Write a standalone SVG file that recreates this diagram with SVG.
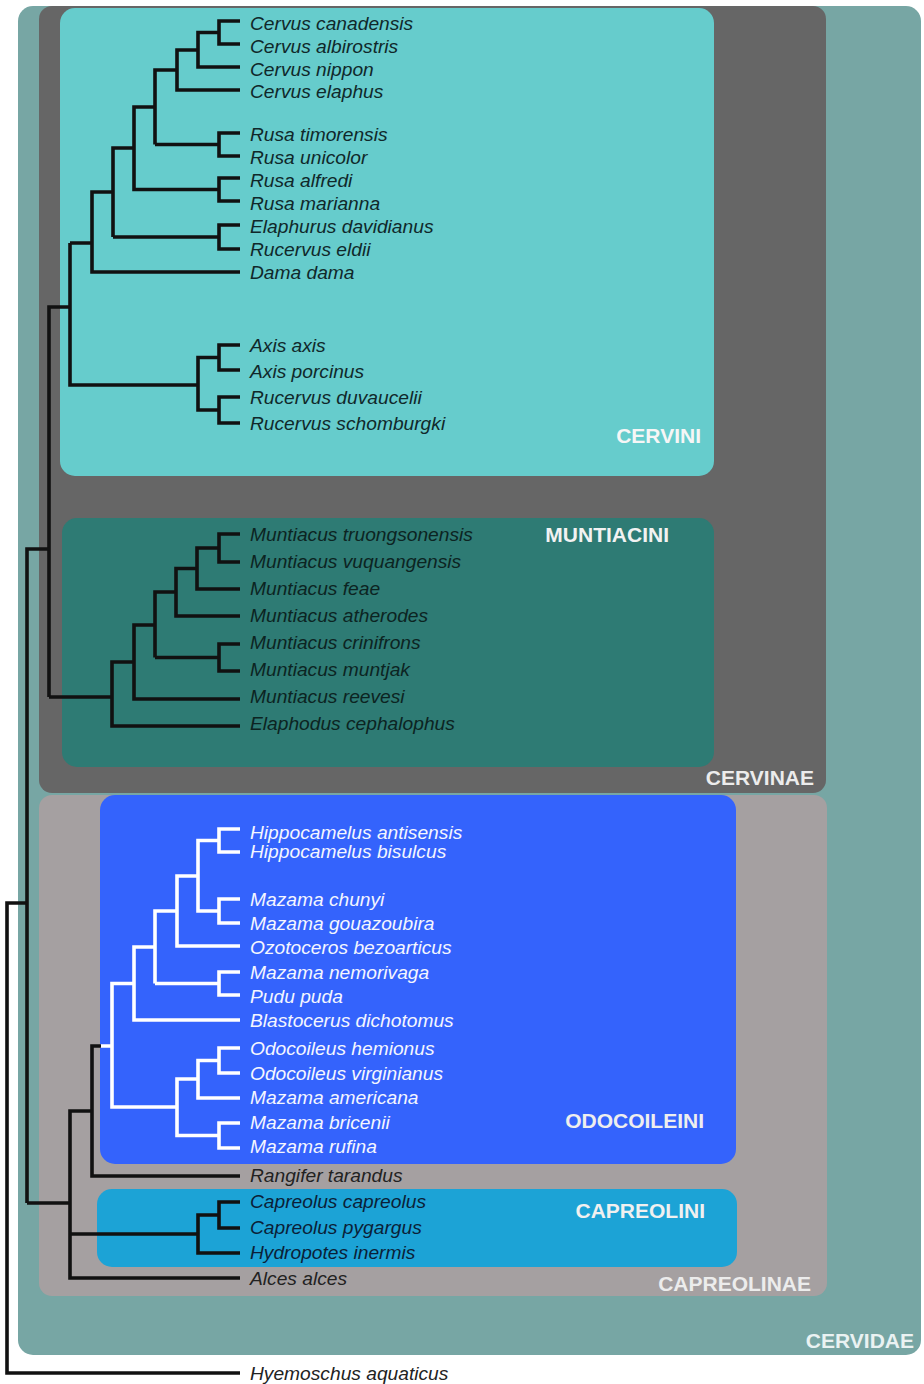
<svg xmlns="http://www.w3.org/2000/svg" width="924" height="1384" viewBox="0 0 924 1384">
<style>
.sp{font-family:"Liberation Sans",Arial,sans-serif;font-style:italic;font-size:19.2px}
.dk{fill:#10282a}
.mu{fill:#0c2422}
.wh{fill:#f4f6ff}
.cp{fill:#0b1f38}
.gr{fill:#222}
.lb{font-family:"Liberation Sans",Arial,sans-serif;font-weight:bold;font-size:21px;text-anchor:end}
.bl{fill:none;stroke:#111;stroke-width:3.6;stroke-linejoin:miter}
.wl{fill:none;stroke:#fff;stroke-width:3.6;stroke-linejoin:miter}
</style>
<rect width="924" height="1384" fill="#fff"/>
<g id="cervidae"><rect x="18" y="6" width="903" height="1349" rx="15" fill="#77a6a4"/><text class="lb" x="914" y="1348" fill="#eaf2f2">CERVIDAE</text></g>
<g id="cervinae"><rect x="39" y="6" width="787" height="787" rx="13" fill="#666666"/><text class="lb" x="814" y="785" fill="#ececec">CERVINAE</text></g>
<g id="capreolinae"><rect x="39" y="795" width="788" height="501" rx="13" fill="#a5a0a1"/><text class="lb" x="811" y="1291" fill="#ececec">CAPREOLINAE</text></g>
<g id="cervini"><rect x="60" y="8" width="654" height="468" rx="15" fill="#66cccc"/><text class="lb" x="701" y="443" fill="#f6f6f6">CERVINI</text></g>
<g id="muntiacini"><rect x="62" y="518" width="652" height="249" rx="15" fill="#2e7b74"/><text class="lb" x="669" y="542" fill="#f2f2f2">MUNTIACINI</text></g>
<g id="odocoileini"><rect x="100" y="795" width="636" height="369" rx="15" fill="#3463fc"/><text class="lb" x="704" y="1128" fill="#eeeeee">ODOCOILEINI</text></g>
<g id="capreolini"><rect x="97" y="1189" width="640" height="78" rx="15" fill="#1ca3d6"/><text class="lb" x="705" y="1218" fill="#f0f0f0">CAPREOLINI</text></g>

<g id="connectors">
<path class="bl" d="M240 21H219V44H240M219 32.5H198V67H240M198 50H177V90H240M240 133H219V156H240M219 144.5H155M177 70H155V144.5M155 107H134V189.5H219M240 178H219V201H240M240 225H219V249H240M219 237H113M134 148H113V237M113 192H92V272H240M92 243H70M240 345H219V370H240M240 397H219V423H240M219 357.5H198V410H219M198 385H70V243M70 307H49V697"/>
<path class="bl" d="M240 534H219V562H240M219 548H197V589H240M197 568.5H176V616H240M240 644H219V671H240M219 657.5H155M176 592H155V657.5M155 625H134V699H240M134 662H112V726H240M112 697H49M49 549H27V1203"/>
<path class="wl" d="M240 829H219V852H240M240 899H219V923H240M219 840.5H198V911H219M198 876H177V946H240M240 972H219V995H240M219 983.5H155M177 911H155V983.5M155 947H134V1020H240M134 983.5H112V1107H177M240 1048H219V1073H240M219 1060.5H198V1098H240M240 1123H219V1148H240M219 1135.5H177V1079H198M112 1046H100"/>
<path class="bl" d="M101 1046H92V1176H240M92 1111H70V1278H240M240 1202H219V1228H240M219 1215H198V1253H240M198 1234H70M70 1203H27M27 903H7V1373H240"/>
</g>

<g id="cervus-canadensis"><text class="sp dk" x="250" y="30">Cervus canadensis</text></g>
<g id="cervus-albirostris"><text class="sp dk" x="250" y="53">Cervus albirostris</text></g>
<g id="cervus-nippon"><text class="sp dk" x="250" y="76">Cervus nippon</text></g>
<g id="cervus-elaphus"><text class="sp dk" x="250" y="98">Cervus elaphus</text></g>
<g id="rusa-timorensis"><text class="sp dk" x="250" y="141">Rusa timorensis</text></g>
<g id="rusa-unicolor"><text class="sp dk" x="250" y="164">Rusa unicolor</text></g>
<g id="rusa-alfredi"><text class="sp dk" x="250" y="187">Rusa alfredi</text></g>
<g id="rusa-marianna"><text class="sp dk" x="250" y="210">Rusa marianna</text></g>
<g id="elaphurus-davidianus"><text class="sp dk" x="250" y="233">Elaphurus davidianus</text></g>
<g id="rucervus-eldii"><text class="sp dk" x="250" y="256">Rucervus eldii</text></g>
<g id="dama-dama"><text class="sp dk" x="250" y="279">Dama dama</text></g>
<g id="axis-axis"><text class="sp dk" x="250" y="352">Axis axis</text></g>
<g id="axis-porcinus"><text class="sp dk" x="250" y="378">Axis porcinus</text></g>
<g id="rucervus-duvaucelii"><text class="sp dk" x="250" y="404">Rucervus duvaucelii</text></g>
<g id="rucervus-schomburgki"><text class="sp dk" x="250" y="430">Rucervus schomburgki</text></g>

<g id="muntiacus-truongsonensis"><text class="sp mu" x="250" y="541">Muntiacus truongsonensis</text></g>
<g id="muntiacus-vuquangensis"><text class="sp mu" x="250" y="568">Muntiacus vuquangensis</text></g>
<g id="muntiacus-feae"><text class="sp mu" x="250" y="595">Muntiacus feae</text></g>
<g id="muntiacus-atherodes"><text class="sp mu" x="250" y="622">Muntiacus atherodes</text></g>
<g id="muntiacus-crinifrons"><text class="sp mu" x="250" y="649">Muntiacus crinifrons</text></g>
<g id="muntiacus-muntjak"><text class="sp mu" x="250" y="676">Muntiacus muntjak</text></g>
<g id="muntiacus-reevesi"><text class="sp mu" x="250" y="703">Muntiacus reevesi</text></g>
<g id="elaphodus-cephalophus"><text class="sp mu" x="250" y="730">Elaphodus cephalophus</text></g>

<g id="hippocamelus-antisensis"><text class="sp wh" x="250" y="839">Hippocamelus antisensis</text></g>
<g id="hippocamelus-bisulcus"><text class="sp wh" x="250" y="858">Hippocamelus bisulcus</text></g>
<g id="mazama-chunyi"><text class="sp wh" x="250" y="906">Mazama chunyi</text></g>
<g id="mazama-gouazoubira"><text class="sp wh" x="250" y="930">Mazama gouazoubira</text></g>
<g id="ozotoceros-bezoarticus"><text class="sp wh" x="250" y="954">Ozotoceros bezoarticus</text></g>
<g id="mazama-nemorivaga"><text class="sp wh" x="250" y="979">Mazama nemorivaga</text></g>
<g id="pudu-puda"><text class="sp wh" x="250" y="1003">Pudu puda</text></g>
<g id="blastocerus-dichotomus"><text class="sp wh" x="250" y="1027">Blastocerus dichotomus</text></g>
<g id="odocoileus-hemionus"><text class="sp wh" x="250" y="1055">Odocoileus hemionus</text></g>
<g id="odocoileus-virginianus"><text class="sp wh" x="250" y="1080">Odocoileus virginianus</text></g>
<g id="mazama-americana"><text class="sp wh" x="250" y="1104">Mazama americana</text></g>
<g id="mazama-bricenii"><text class="sp wh" x="250" y="1129">Mazama bricenii</text></g>
<g id="mazama-rufina"><text class="sp wh" x="250" y="1153">Mazama rufina</text></g>
<g id="rangifer-tarandus"><text class="sp gr" x="250" y="1182">Rangifer tarandus</text></g>
<g id="capreolus-capreolus"><text class="sp cp" x="250" y="1208">Capreolus capreolus</text></g>
<g id="capreolus-pygargus"><text class="sp cp" x="250" y="1234">Capreolus pygargus</text></g>
<g id="hydropotes-inermis"><text class="sp cp" x="250" y="1259">Hydropotes inermis</text></g>
<g id="alces-alces"><text class="sp gr" x="250" y="1285">Alces alces</text></g>
<g id="hyemoschus-aquaticus"><text class="sp gr" x="250" y="1380">Hyemoschus aquaticus</text></g>
</svg>
